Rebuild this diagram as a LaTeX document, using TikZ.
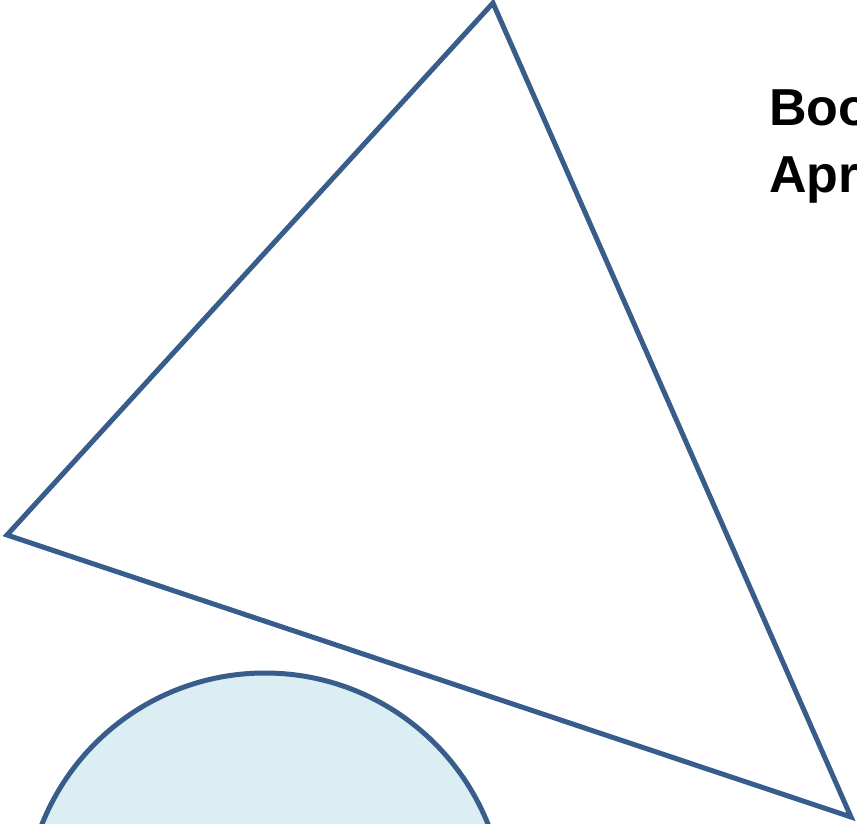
\documentclass[tikz,border=0pt]{standalone}
\usepackage{fontspec}
\setmainfont{Liberation Sans}
\usetikzlibrary{positioning}
\definecolor{outline}{HTML}{385D8A}
\definecolor{paleblue}{HTML}{DAEEF3}

\begin{document}
\begin{tikzpicture}[x=1pt,y=-1pt,line join=miter,
    shapeline/.style={draw=outline,line width=5pt},
    title/.style={font=\fontsize{52}{67}\selectfont\bfseries,align=left,inner sep=0pt}]
      \useasboundingbox (0,0) rectangle (857,823);
      \clip (0,0) rectangle (857,823);
      \coordinate (top) at (493,3);
      \coordinate (left) at (7,535);
      \coordinate (right) at (851,817);

      \draw[shapeline] (top) -- (left) -- (right) -- cycle;
      \filldraw[shapeline,fill=paleblue] (265,913) circle (240);

      % last line sits on the base anchor
      \node[title,anchor=base west] (caption) at (769,192) {Boo\\Apr};
    \end{tikzpicture}
\end{document}
